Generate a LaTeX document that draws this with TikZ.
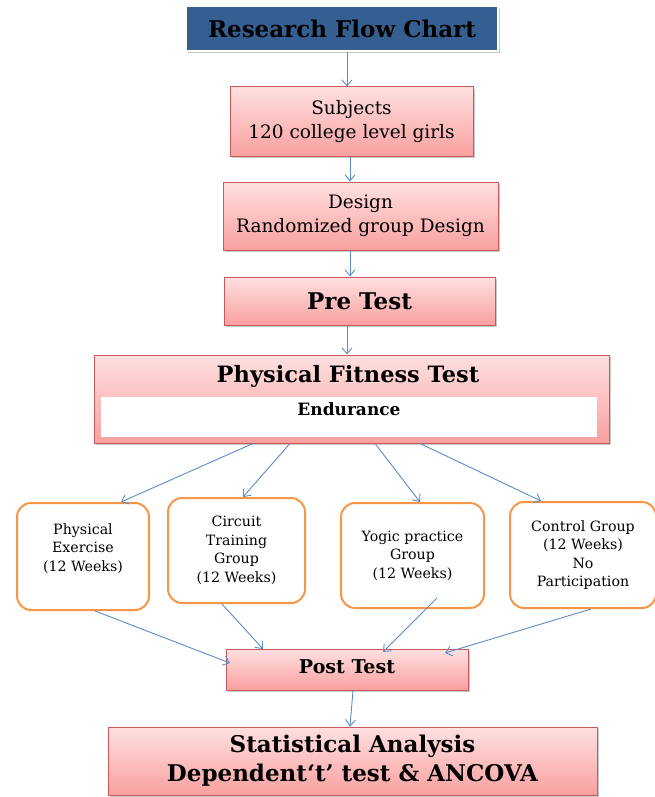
\documentclass[tikz,border=0pt]{standalone}
\usepackage{fontspec}
\setmainfont{DejaVu Serif}
\usetikzlibrary{arrows.meta,shadows}
\definecolor{titleblue}{HTML}{365F91}
\definecolor{pinktop}{HTML}{FFE0E0}
\definecolor{pinkbot}{HTML}{F9A0A0}
\definecolor{pinkedge}{HTML}{C9595A}
\definecolor{grpedge}{HTML}{F79646}
\definecolor{arrowblue}{HTML}{5B8CC8}
\tikzset{
  pbox/.style={rectangle, draw=pinkedge, line width=1pt, top color=pinktop, bottom color=pinkbot,
    align=center, inner sep=0pt,
    drop shadow={shadow xshift=1.5pt, shadow yshift=-2pt, opacity=0.35, fill=black!60}},
  gbox/.style={rectangle, rounded corners=14pt, draw=grpedge, line width=2pt, fill=white,
    align=center, inner sep=0pt, font=\fontsize{14.2}{18.5}\selectfont},
  conn/.style={draw=arrowblue, line width=0.9pt, -{Straight Barb[length=6pt,width=10pt]}}
}
\begin{document}
\begin{tikzpicture}[x=1pt,y=-1pt]
\useasboundingbox (0,0) rectangle (655,797);
% title
\node[rectangle, fill=titleblue, draw=white, line width=2.5pt,
  minimum width=312, minimum height=45, inner sep=0pt,
  drop shadow={shadow xshift=1.5pt, shadow yshift=-2pt, opacity=0.35, fill=black!60},
  font=\fontsize{23}{24}\selectfont\bfseries] (title) at (342,28.5) {Research Flow Chart};
\node[pbox, minimum width=243, minimum height=69, font=\fontsize{18.5}{24}\selectfont] (subj) at (351.5,121.5)
  {Subjects\\120 college level girls};
\node[pbox, minimum width=275, minimum height=68, font=\fontsize{18.5}{24}\selectfont] (design) at (360.5,216)
  {Design\\Randomized group Design};
\node[pbox, minimum width=271, minimum height=48, font=\fontsize{23}{24}\selectfont\bfseries] (pre) at (359.5,301)
  {Pre Test};
\node[pbox, minimum width=515, minimum height=88] (pft) at (351.5,399) {};
\node[font=\fontsize{22.5}{24}\selectfont\bfseries] (pftt) at (348,376) {Physical Fitness Test};
\node[rectangle, fill=white, minimum width=496, minimum height=40, inner sep=0pt, anchor=north,
  font=\fontsize{17}{18}\selectfont\bfseries] (endu) at (349,397) {\raisebox{17pt}{Endurance}};
% groups
\node[gbox, minimum width=132, minimum height=107] (g1) at (83,556.5)
  {Physical\\Exercise\\(12 Weeks)\\\mbox{}};
\node[gbox, minimum width=137, minimum height=105] (g2) at (236.5,550.5)
  {Circuit\\Training\\Group\\(12 Weeks)};
\node[gbox, minimum width=143, minimum height=105] (g3) at (412.5,555.5)
  {Yogic practice\\Group\\(12 Weeks)};
\node[gbox, minimum width=146, minimum height=106] (g4) at (583,555)
  {Control Group\\(12 Weeks)\\No\\Participation};
\node[pbox, minimum width=242, minimum height=41, font=\fontsize{19}{20}\selectfont\bfseries] (post) at (347,669.5)
  {\raisebox{6pt}{Post Test}};
\node[pbox, minimum width=489, minimum height=68, font=\fontsize{23}{29}\selectfont\bfseries] (stat) at (352.5,761)
  {Statistical Analysis\\Dependent`t' test \& ANCOVA};
% connectors
\draw[conn] (title.south -| 347,0) -- (subj.north -| 347,0);
\draw[conn] (subj.south -| 350,0) -- (design.north -| 350,0);
\draw[conn] (design.south -| 350,0) -- (pre.north -| 350,0);
\draw[conn] (pre.south -| 347,0) -- (pft.north -| 347,0);
\draw[conn] (pft.south -| 253,0) -- (g1.north -| 121,0);
\draw[conn] (pft.south -| 290,0) -- (g2.north -| 243,0);
\draw[conn] (pft.south -| 375,0) -- (g3.north -| 420,0);
\draw[conn] (pft.south -| 420,0) -- (g4.north -| 541,0);
\coordinate (p1) at (230,663);
\coordinate (p2) at (263,649);
\coordinate (p3) at (383,652);
\coordinate (p4) at (445,653);
\coordinate (g3s) at (437,598);
\draw[conn] (g1.south -| 95,0) -- (p1);
\draw[conn] (g2.south -| 222,0) -- (p2);
\draw[conn] (g3s) -- (p3);
\draw[conn] (g4.south -| 591,0) -- (p4);
\draw[conn] (post.south -| 353,0) -- (stat.north -| 350,0);
\end{tikzpicture}
\end{document}
